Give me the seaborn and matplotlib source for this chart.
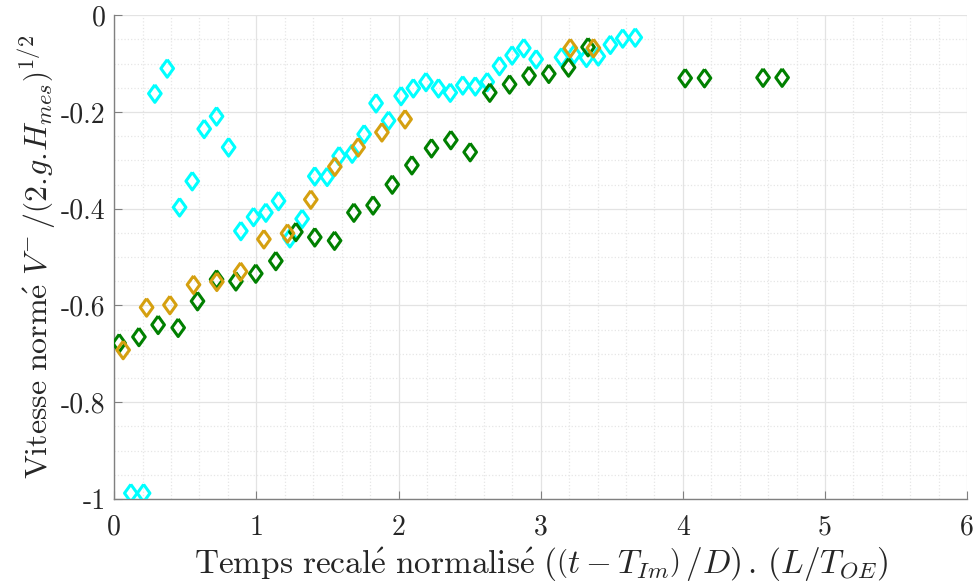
import numpy as np
import matplotlib
matplotlib.use('Agg')
import matplotlib.pyplot as plt
from matplotlib.ticker import MultipleLocator
import seaborn as sns

# series (x: normalised time, y: normalised speed)
cyan_x = [0.117, 0.207, 0.286, 0.373, 0.460, 0.549, 0.633, 0.720, 0.805, 0.891,
          0.980, 1.067, 1.156, 1.236, 1.322, 1.411, 1.498, 1.582, 1.674, 1.758,
          1.842, 1.930, 2.018, 2.104, 2.193, 2.281, 2.364, 2.452, 2.540, 2.624,
          2.710, 2.799, 2.881, 2.968, 3.146, 3.235, 3.322, 3.405, 3.490, 3.577,
          3.665]
cyan_y = [-0.988, -0.988, -0.162, -0.110, -0.397, -0.343, -0.235, -0.209, -0.273, -0.446,
          -0.417, -0.408, -0.384, -0.461, -0.421, -0.333, -0.334, -0.291, -0.286, -0.246,
          -0.182, -0.218, -0.167, -0.151, -0.138, -0.151, -0.160, -0.145, -0.147, -0.138,
          -0.105, -0.083, -0.068, -0.091, -0.087, -0.081, -0.088, -0.085, -0.061, -0.048,
          -0.046]

green_x = [0.035, 0.174, 0.309, 0.450, 0.586, 0.720, 0.856, 0.996, 1.137, 1.278,
           1.411, 1.550, 1.686, 1.821, 1.956, 2.094, 2.232, 2.368, 2.504, 2.642,
           2.781, 2.918, 3.057, 3.196, 3.333, 4.016, 4.152, 4.564, 4.698]
green_y = [-0.678, -0.665, -0.640, -0.646, -0.591, -0.546, -0.550, -0.534, -0.508, -0.448,
           -0.459, -0.466, -0.408, -0.393, -0.350, -0.310, -0.275, -0.258, -0.283, -0.160,
           -0.143, -0.125, -0.121, -0.108, -0.066, -0.130, -0.130, -0.129, -0.129]

orange_x = [0.063, 0.228, 0.392, 0.558, 0.722, 0.889, 1.053, 1.219, 1.383, 1.552,
            1.716, 1.883, 2.046, 3.208, 3.371]
orange_y = [-0.692, -0.604, -0.599, -0.557, -0.551, -0.530, -0.463, -0.451, -0.381, -0.313,
            -0.273, -0.242, -0.215, -0.068, -0.068]

x_ticks = [0, 1, 2, 3, 4, 5, 6]
y_ticks = [-1, -0.8, -0.6, -0.4, -0.2, 0]
y_tick_labels = ['-1', '-0.8', '-0.6', '-0.4', '-0.2', '0']

sns.set_theme(style="whitegrid")
plt.rcParams['font.family'] = ['cmr10', 'DejaVu Serif']
plt.rcParams['mathtext.fontset'] = 'cm'
plt.rcParams['axes.unicode_minus'] = False

fig = plt.figure(figsize=(9.76, 5.85), dpi=100)
ax = fig.add_axes([0.117, 0.147, 0.874, 0.827])

# slightly tall diamond, like the reference markers
diamond = [(0, 1), (0.72, 0), (0, -1), (-0.72, 0), (0, 1)]

for xs, ys, col in [(cyan_x, cyan_y, '#00FFFF'),
                    (green_x, green_y, '#008000'),
                    (orange_x, orange_y, '#D5A010')]:
    sns.scatterplot(x=xs, y=ys, ax=ax, marker=diamond, s=160,
                    color='none', edgecolor=col, linewidth=2.2, zorder=3)

ax.set_xlim(0, 6)
ax.set_ylim(-1, 0)
ax.set_xticks(x_ticks)
ax.set_xticklabels([str(t) for t in x_ticks])
ax.set_yticks(y_ticks)
ax.set_yticklabels(y_tick_labels)
ax.xaxis.set_minor_locator(MultipleLocator(0.2))
ax.yaxis.set_minor_locator(MultipleLocator(0.05))

ax.grid(True, which='major', color='#e3e3e3', linestyle='-', linewidth=0.9)
ax.grid(True, which='minor', color='#e6e6e6', linestyle=':', linewidth=0.9)
ax.set_axisbelow(True)

for side in ['top', 'right']:
    ax.spines[side].set_visible(False)
for side in ['left', 'bottom']:
    ax.spines[side].set_color('#808080')
    ax.spines[side].set_linewidth(1.0)

ax.tick_params(axis='both', which='major', direction='in', length=6, width=0.8,
               color='#808080', labelsize=20, labelcolor='#262626', pad=6,
               left=True, bottom=True)
ax.tick_params(axis='x', which='major', pad=11)
ax.tick_params(axis='both', which='minor', length=0)

ax.set_xlabel(r'$\mathrm{Temps\ recal\acute{e}\ normalis\acute{e}}\ '
              r'\left(\left(t-T_{Im}\right)\,/D\right)\,.\,\left(L/T_{OE}\right)$',
              fontsize=24, color='#262626', labelpad=3)
ax.set_ylabel(r'$\mathrm{Vitesse\ norm\acute{e}}\ V^{-}\,/\left(2.\!g.\!H_{mes}\right)^{1/2}$',
              fontsize=23, color='#262626', labelpad=2)

fig.savefig('out.png', dpi=100)
